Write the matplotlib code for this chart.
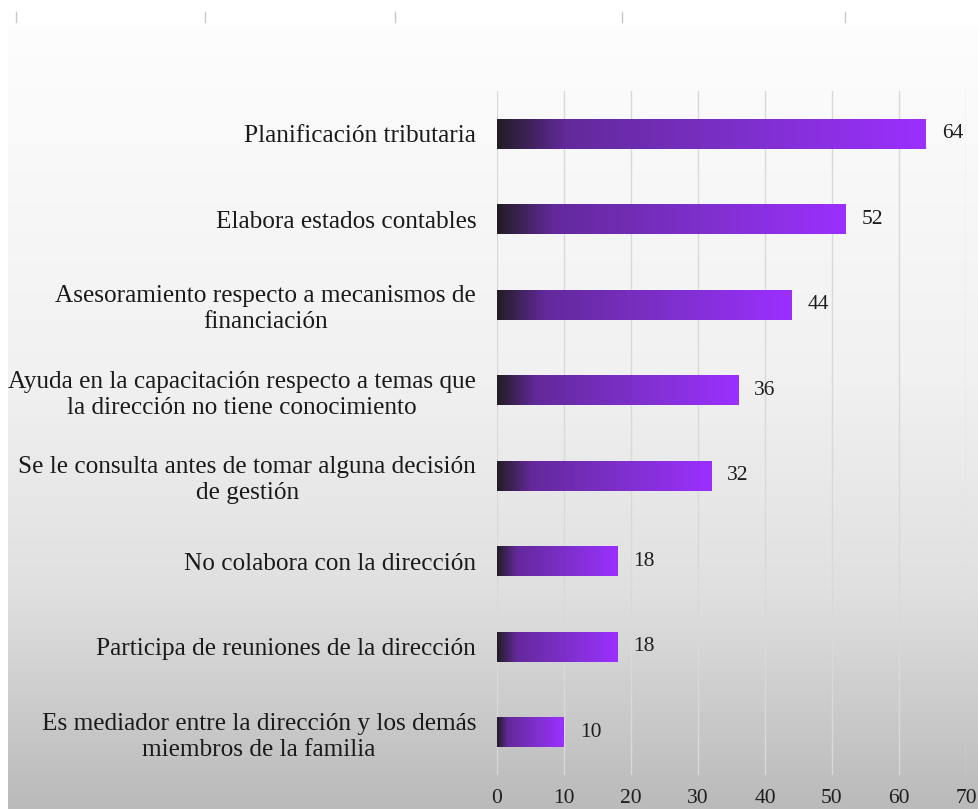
import numpy as np
import matplotlib.pyplot as plt
from matplotlib.colors import LinearSegmentedColormap
from matplotlib.lines import Line2D

# categories top to bottom, with their counts
categories = [
    "Planificación tributaria",
    "Elabora estados contables",
    "Asesoramiento respecto a mecanismos de\nfinanciación",
    "Ayuda en la capacitación respecto a temas que\nla dirección no tiene conocimiento",
    "Se le consulta antes de tomar alguna decisión\nde gestión",
    "No colabora con la dirección",
    "Participa de reuniones de la dirección",
    "Es mediador entre la dirección y los demás\nmiembros de la familia",
]
values = [64, 52, 44, 36, 32, 18, 18, 10]
xticks = [0, 10, 20, 30, 40, 50, 60, 70]

FONT = "Liberation Serif"

fig = plt.figure(figsize=(9.79, 8.09), dpi=100)

# grey gradient backdrop behind the chart
bg = fig.add_axes([8 / 979, 0, 1 - 8 / 979, 1 - 25 / 809], zorder=0)
bg_cmap = LinearSegmentedColormap.from_list(
    "bg", [(0, "#fdfdfd"), (0.45, "#f1f1f1"), (0.72, "#e0e0e0"), (1, "#bababa")])
bg.imshow(np.linspace(0, 1, 256).reshape(-1, 1), cmap=bg_cmap, aspect="auto",
          extent=(0, 1, 0, 1), origin="upper")
bg.set_axis_off()

# leftover tick marks along the top edge
for xp in [16, 205, 395, 622, 845]:
    fig.add_artist(Line2D([xp / 979, xp / 979], [1 - 12 / 809, 1 - 22 / 809],
                          color="#c8c8c8", lw=1))

ax = fig.add_axes([497 / 979, 1 - 775 / 809, (966 - 497) / 979, (775 - 91) / 809],
                  zorder=1)
ax.patch.set_alpha(0)

y = np.arange(len(categories))
bars = ax.barh(y, values, height=0.35, color="none", edgecolor="none")

bar_cmap = LinearSegmentedColormap.from_list(
    "bar", [(0, "#221d24"), (0.16, "#63299b"), (0.55, "#7c2fc8"), (1, "#9b30ff")])
grad = np.linspace(0, 1, 256).reshape(1, -1)
for b, v in zip(bars, values):
    x0, y0 = b.get_x(), b.get_y()
    ax.imshow(grad, cmap=bar_cmap, aspect="auto", zorder=3,
              extent=(x0, x0 + b.get_width(), y0 + b.get_height(), y0))
    ax.annotate(str(v), (v, b.get_y() + b.get_height() / 2), xytext=(11.5, 0),
                textcoords="offset points", va="center", ha="left",
                fontsize=15.5, family=FONT, color="#1e1e1e")

ax.set_xlim(0, 70)
ax.set_ylim(len(categories) - 0.5, -0.5)
ax.set_xticks(xticks)
ax.set_yticks(y)
ax.set_yticklabels(categories, fontsize=18.2, family=FONT, color="#1a1a1a")
for lbl in ax.get_yticklabels():
    lbl.set_multialignment("center")
    lbl.set_linespacing(1.25)
for lbl in ax.get_xticklabels():
    lbl.set_fontsize(15.5)
    lbl.set_family(FONT)
    lbl.set_color("#1e1e1e")
ax.tick_params(axis="y", length=0, pad=15)
ax.tick_params(axis="x", length=0, pad=10)
ax.grid(axis="x", color="#d9d9d9", lw=1)
ax.set_axisbelow(True)
for s in ax.spines.values():
    s.set_visible(False)

fig.savefig("out.png", dpi=100, facecolor="white")
